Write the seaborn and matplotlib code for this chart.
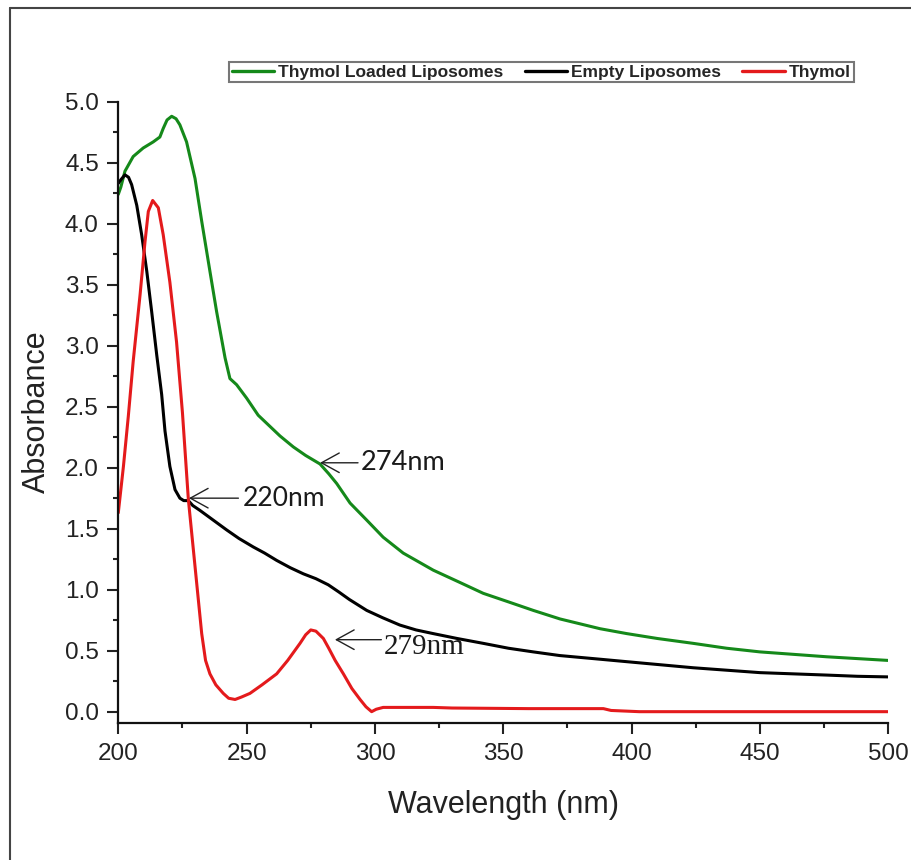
import numpy as np
import seaborn as sns
import matplotlib.pyplot as plt
from matplotlib.lines import Line2D
from matplotlib.ticker import MultipleLocator

# Thymol loaded liposomes (green)
wl_loaded = [200, 201, 202.6, 205.8, 209.7, 213.6, 216.2, 217.5, 219, 220.8, 222.5, 224,
             226.6, 229.9, 232.5, 235.7, 238.3, 241.6, 243.5, 246.1, 250, 254.5, 258, 263,
             268.2, 273, 278.6, 282, 285.1, 290.3, 296.8, 303.2, 311, 322.7, 333, 342.2,
             352, 361.7, 372.1, 387.7, 398.1, 410, 424, 437, 450, 463, 476, 488, 500]
abs_loaded = [4.24, 4.30, 4.43, 4.55, 4.62, 4.67, 4.71, 4.78, 4.85, 4.88, 4.86, 4.81,
              4.67, 4.37, 4.02, 3.61, 3.28, 2.90, 2.73, 2.68, 2.57, 2.43, 2.36, 2.26,
              2.17, 2.10, 2.03, 1.95, 1.87, 1.71, 1.57, 1.43, 1.30, 1.16, 1.06, 0.97,
              0.90, 0.83, 0.76, 0.68, 0.64, 0.60, 0.56, 0.52, 0.49, 0.47, 0.45, 0.435, 0.42]

# Empty liposomes (black)
wl_empty = [200, 201, 202.6, 204, 205.2, 207.2, 209.1, 211.1, 213, 215, 216.9, 218.2,
            220.1, 222.1, 224, 225.5, 227.3, 229, 231.8, 237, 242.2, 247, 252.6, 257,
            261.7, 267, 272.1, 277, 281.8, 286, 290, 296.8, 303, 309.7, 316, 322.7, 332,
            342.2, 352, 361.7, 372, 387.7, 398, 411, 424, 437, 450, 463, 476, 488, 500]
abs_empty = [4.33, 4.36, 4.40, 4.38, 4.32, 4.15, 3.91, 3.61, 3.28, 2.92, 2.60, 2.30,
             2.01, 1.82, 1.75, 1.73, 1.73, 1.69, 1.65, 1.57, 1.49, 1.42, 1.35, 1.30,
             1.24, 1.18, 1.13, 1.09, 1.04, 0.98, 0.92, 0.83, 0.77, 0.71, 0.67, 0.64, 0.60,
             0.56, 0.52, 0.49, 0.46, 0.43, 0.41, 0.385, 0.36, 0.34, 0.32, 0.31, 0.30, 0.29, 0.285]

# Thymol (red)
wl_thymol = [200, 202, 203.9, 205.8, 208.5, 210.4, 211.7, 213.4, 215.6, 217.5, 220.1, 222.7,
             225, 227.3, 229.9, 232.5, 234, 235.7, 238, 240.9, 243, 245.5, 248, 251.3, 256,
             261.7, 266, 270.8, 273, 275, 277, 279.9, 282, 284.5, 287.7, 291, 294.2, 296.5,
             298.7, 300.5, 303.2, 322.7, 330, 360, 389, 392, 403, 450, 500]
abs_thymol = [1.63, 2.01, 2.42, 2.87, 3.42, 3.85, 4.10, 4.19, 4.13, 3.91, 3.52, 3.03,
              2.45, 1.74, 1.19, 0.64, 0.42, 0.31, 0.22, 0.15, 0.11, 0.10, 0.12, 0.15, 0.22,
              0.31, 0.42, 0.56, 0.63, 0.67, 0.66, 0.60, 0.52, 0.42, 0.31, 0.19, 0.10, 0.04,
              0.00, 0.02, 0.035, 0.035, 0.03, 0.025, 0.025, 0.01, 0.0, 0.0, 0.0]

series_labels = ["Thymol Loaded Liposomes", "Empty Liposomes", "Thymol"]
series_colors = ["#15891a", "#000000", "#e41a1c"]

# peak annotations: text, arrow tip, arrow tail, text anchor
peak_text = ["220nm", "274nm", "279nm"]
peak_tip = [(227.5, 1.75), (278.6, 2.04), (284.4, 0.59)]
peak_tail = [(246.8, 1.75), (293.4, 2.04), (302.5, 0.59)]
peak_textpos = [(248.3, 1.75), (294.6, 2.04), (303.6, 0.53)]

sns.set_style("ticks")
plt.rcParams["font.family"] = ["Liberation Sans", "DejaVu Sans"]

fig = plt.figure(figsize=(9.12, 8.6), dpi=100)
ax = fig.add_axes([0.1297, 0.1597, 0.8443, 0.7221])

for wl, ab, lab, col in zip([wl_loaded, wl_empty, wl_thymol],
                            [abs_loaded, abs_empty, abs_thymol],
                            series_labels, series_colors):
    sns.lineplot(x=wl, y=ab, ax=ax, color=col, lw=2.2, label=lab)

ax.set_xlim(200, 500)
ax.set_ylim(-0.09, 5.0)
ax.xaxis.set_major_locator(MultipleLocator(50))
ax.xaxis.set_minor_locator(MultipleLocator(25))
ax.yaxis.set_major_locator(MultipleLocator(0.5))
ax.yaxis.set_minor_locator(MultipleLocator(0.25))
ax.tick_params(which="major", direction="out", length=8, width=1.5, labelsize=17.5,
               colors="#222222")
ax.tick_params(which="minor", direction="out", length=3.6, width=1.5, colors="#222222")
ax.tick_params(axis="x", which="major", pad=7)
ax.tick_params(axis="y", which="major", pad=6)
sns.despine(ax=ax)
for s in ["left", "bottom"]:
    ax.spines[s].set_linewidth(1.6)
    ax.spines[s].set_color("#111111")

ax.set_xlabel("Wavelength (nm)", fontsize=22, labelpad=18, color="#222222")
ax.set_ylabel("Absorbance", fontsize=22, labelpad=9, color="#222222")

arrow = dict(arrowstyle="->,head_length=0.4,head_width=0.22", lw=1.0, color="#222222",
             shrinkA=0, shrinkB=0, mutation_scale=32)
peak_fonts = [(["Lato", "DejaVu Sans"], 19), (["Lato", "DejaVu Sans"], 19.5),
              (["Liberation Serif", "DejaVu Serif"], 21)]
for txt, tip, tail, pos, (fam, size) in zip(peak_text, peak_tip, peak_tail,
                                            peak_textpos, peak_fonts):
    ax.annotate("", xy=tip, xytext=tail, arrowprops=arrow)
    ax.text(pos[0], pos[1], txt, fontsize=size, family=fam, va="center", ha="left",
            color="#1a1a1a")

leg = ax.legend(loc="upper left", bbox_to_anchor=(229 / 912, 1 - 62 / 860),
                bbox_transform=fig.transFigure, ncol=3, frameon=True, fancybox=False,
                borderaxespad=0, borderpad=0.15, handlelength=2.45, handletextpad=0.25,
                columnspacing=1.2, prop={"family": "Liberation Sans", "weight": "bold",
                                         "size": 12.5})
leg.get_frame().set_edgecolor("#555555")
leg.get_frame().set_linewidth(1.5)
for line in leg.get_lines():
    line.set_linewidth(2.4)

# outer picture border (left and top edges only)
fig.add_artist(Line2D([0.011, 0.011], [0, 0.9907], transform=fig.transFigure,
                      color="#444444", lw=1.5))
fig.add_artist(Line2D([0.011, 1.0], [0.9907, 0.9907], transform=fig.transFigure,
                      color="#444444", lw=1.5))

fig.savefig("out.png", dpi=100, facecolor="white")
